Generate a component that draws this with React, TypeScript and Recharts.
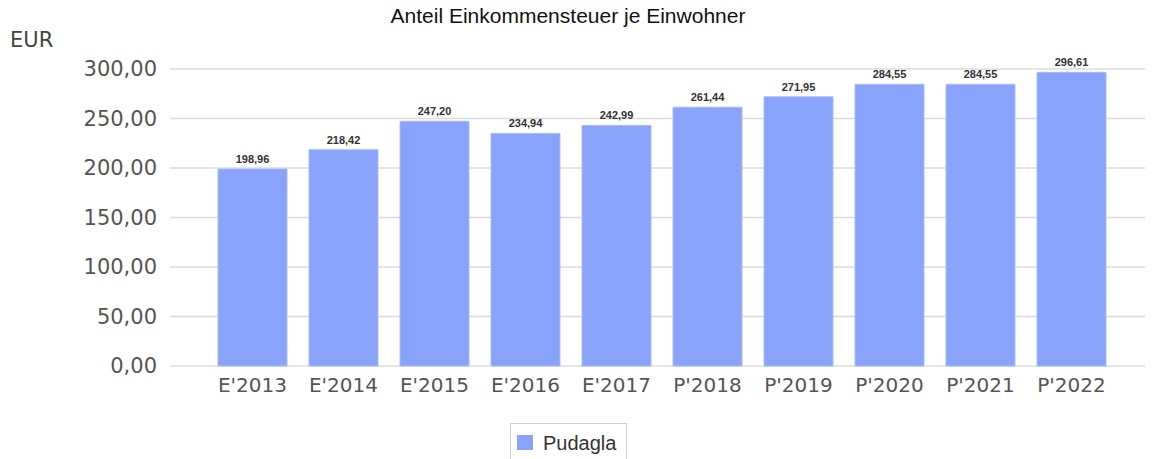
import React from 'react';
import { BarChart, Bar, XAxis, YAxis, CartesianGrid, LabelList, Legend } from 'recharts';

const categories = ["E'2013", "E'2014", "E'2015", "E'2016", "E'2017", "P'2018", "P'2019", "P'2020", "P'2021", "P'2022"];
const pudagla = [198.96, 218.42, 247.2, 234.94, 242.99, 261.44, 271.95, 284.55, 284.55, 296.61];
const yTicks = [0, 50, 100, 150, 200, 250, 300];

const data = categories.map((c, i) => ({ name: c, Pudagla: pudagla[i] }));
const fmt = (v: number) => Number(v).toFixed(2).replace('.', ',');

const BAR = '#88a3f9';

const LegendContent = () => (
  <div style={{ width: 115, height: 40, border: '1px solid #d0d0d0', boxSizing: 'content-box', display: 'flex', alignItems: 'flex-start', paddingTop: 0, fontFamily: 'Liberation Sans, Arial, sans-serif', fontSize: 20, color: '#333' }}>
    <span style={{ display: 'inline-block', width: 16, height: 15, background: BAR, marginLeft: 6, marginRight: 10, marginTop: 11 }} />
    <span style={{ marginTop: 8, lineHeight: '23px' }}>Pudagla</span>
  </div>
);

export default function App() {
  return (
    <div style={{ position: 'absolute', left: 0, top: 0, width: 1152, height: 459, background: '#fff', overflow: 'hidden' }}>
      <div style={{ position: 'absolute', left: 368, top: 4, width: 400, textAlign: 'center', fontFamily: 'Liberation Sans, Arial, sans-serif', fontSize: 21, lineHeight: '24px', color: '#111', whiteSpace: 'nowrap' }}>
        Anteil Einkommensteuer je Einwohner
      </div>
      <div style={{ position: 'absolute', left: 10, top: 28, fontFamily: 'DejaVu Sans, sans-serif', fontSize: 21, color: '#444' }}>EUR</div>
      <BarChart width={1152} height={459} data={data} margin={{ top: 69, right: 7, bottom: 0, left: 0 }}>
        <CartesianGrid horizontal vertical={false} stroke="#dcdcdc" strokeWidth={1.5} />
        <XAxis dataKey="name" axisLine={false} tickLine={false} height={58} padding={{ left: 37, right: 28 }}
          tick={{ fontFamily: 'DejaVu Sans, sans-serif', fontSize: 20, fill: '#555' }} tickMargin={6} />
        <YAxis domain={[0, 300]} ticks={yTicks} width={170} axisLine={false} tickLine={false} tickFormatter={fmt}
          tick={{ fontFamily: 'DejaVu Sans, sans-serif', fontSize: 21, fill: '#555' }} tickMargin={7} />
        <Legend verticalAlign="bottom" content={<LegendContent />} wrapperStyle={{ position: 'absolute', left: 510, top: 423, width: 117, height: 35 }} />
        <Bar dataKey="Pudagla" fill={BAR} stroke="#a8bcfb" strokeWidth={1} barSize={69} isAnimationActive={false}>
          <LabelList dataKey="Pudagla" position="top" offset={6} formatter={(v: any) => fmt(v)}
            style={{ fontFamily: 'Liberation Sans, Arial, sans-serif', fontSize: 11, fontWeight: 'bold', fill: '#333' }} />
        </Bar>
      </BarChart>
    </div>
  );
}
